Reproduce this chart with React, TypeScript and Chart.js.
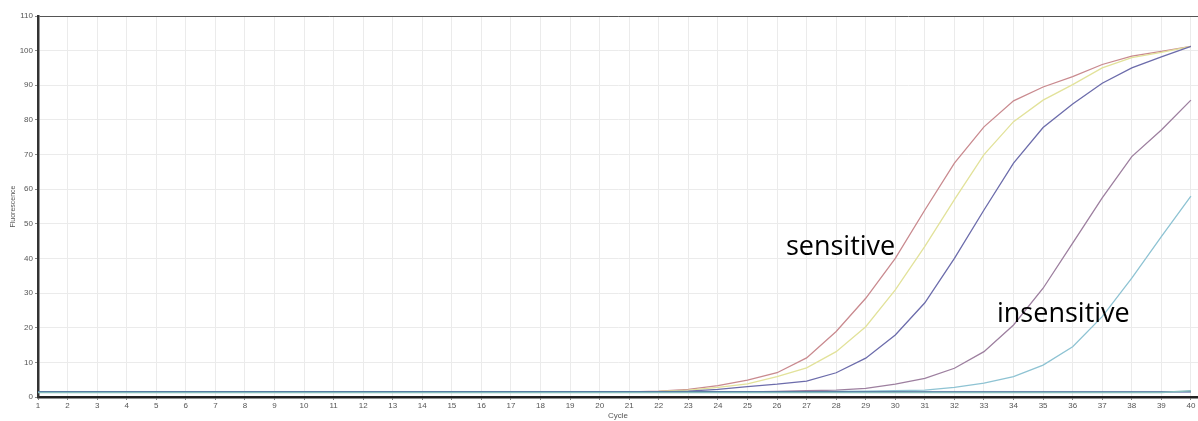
import React, { useEffect, useRef } from "react";
import { Chart, registerables } from "chart.js";

Chart.register(...registerables);

const cycles = [1,2,3,4,5,6,7,8,9,10,11,12,13,14,15,16,17,18,19,20,21,22,23,24,25,26,27,28,29,30,31,32,33,34,35,36,37,38,39,40];

const sensitiveA = [1.5,1.5,1.5,1.5,1.5,1.5,1.5,1.5,1.5,1.5,1.5,1.5,1.5,1.5,1.5,1.5,1.5,1.5,1.5,1.5,1.5,1.7,2.2,3.3,4.9,7.0,11.3,18.9,28.5,40.0,54.0,67.5,78.0,85.5,89.5,92.5,96.0,98.4,99.8,101.2];
const sensitiveB = [1.5,1.5,1.5,1.5,1.5,1.5,1.5,1.5,1.5,1.5,1.5,1.5,1.5,1.5,1.5,1.5,1.5,1.5,1.5,1.5,1.5,1.6,2.0,2.8,3.8,5.9,8.4,13.1,20.3,30.9,43.5,57.0,70.0,79.5,85.7,90.2,95.0,98.0,99.5,101.2];
const sensitiveC = [1.5,1.5,1.5,1.5,1.5,1.5,1.5,1.5,1.5,1.5,1.5,1.5,1.5,1.5,1.5,1.5,1.5,1.5,1.5,1.5,1.5,1.5,1.7,2.2,3.0,3.7,4.6,7.0,11.2,17.9,27.2,40.0,54.0,67.5,77.8,84.6,90.6,95.0,98.2,101.2];
const insensitiveA = [1.5,1.5,1.5,1.5,1.5,1.5,1.5,1.5,1.5,1.5,1.5,1.5,1.5,1.5,1.5,1.5,1.5,1.5,1.5,1.5,1.5,1.5,1.5,1.5,1.5,1.6,1.8,2.0,2.5,3.7,5.4,8.3,13.1,20.8,31.4,44.4,57.5,69.4,77.1,85.7];
const insensitiveB = [1.5,1.5,1.5,1.5,1.5,1.5,1.5,1.5,1.5,1.5,1.5,1.5,1.5,1.5,1.5,1.5,1.5,1.5,1.5,1.5,1.5,1.5,1.5,1.5,1.5,1.5,1.5,1.6,1.7,1.8,2.0,2.8,4.0,5.9,9.2,14.5,23.2,34.3,46.3,58.0];
const baselineTeal = [1.3,1.3,1.3,1.3,1.3,1.3,1.3,1.3,1.3,1.3,1.3,1.3,1.3,1.3,1.3,1.3,1.3,1.3,1.3,1.3,1.3,1.3,1.3,1.3,1.3,1.3,1.3,1.3,1.3,1.3,1.3,1.3,1.3,1.3,1.3,1.3,1.3,1.3,1.3,1.8];
const baselineNavy = [1.5,1.5,1.5,1.5,1.5,1.5,1.5,1.5,1.5,1.5,1.5,1.5,1.5,1.5,1.5,1.5,1.5,1.5,1.5,1.5,1.5,1.5,1.5,1.5,1.5,1.5,1.5,1.5,1.5,1.5,1.5,1.5,1.5,1.5,1.5,1.5,1.5,1.5,1.5,1.5];

const yTickValues = [0,10,20,30,40,50,60,70,80,90,100,110];

const annotations = [
  { text: "sensitive", x: 26.3, y: 41.0 },
  { text: "insensitive", x: 33.44, y: 21.7 },
];

const toPoints = (vals: number[]) => vals.map((v, i) => ({ x: cycles[i], y: v }));

const annotationPlugin = {
  id: "textAnnotations",
  afterDatasetsDraw(chart: any) {
    const { ctx, scales } = chart;
    ctx.save();
    ctx.font = '27px "Open Sans"';
    ctx.fillStyle = "#000";
    ctx.textAlign = "left";
    ctx.textBaseline = "alphabetic";
    annotations.forEach((a) => {
      ctx.fillText(a.text, scales.x.getPixelForValue(a.x), scales.y.getPixelForValue(a.y));
    });
    ctx.restore();
  },
};

export default function App() {
  const ref = useRef<HTMLCanvasElement>(null);
  useEffect(() => {
    if (!ref.current) return;
    const mk = (label: string, vals: number[], color: string, w = 1.3) => ({
      label,
      data: toPoints(vals),
      borderColor: color,
      backgroundColor: color,
      borderWidth: w,
      pointRadius: 0,
      tension: 0,
      fill: false,
    });
    const chart = new Chart(ref.current, {
      type: "line",
      data: {
        datasets: [
          mk("baseline teal", baselineTeal, "#86bcbc", 1.6),
          mk("baseline navy", baselineNavy, "#34508f", 1.2),
          mk("insensitive B", insensitiveB, "#8ec3d3"),
          mk("insensitive A", insensitiveA, "#9d7f9f"),
          mk("sensitive C", sensitiveC, "#6c6cab"),
          mk("sensitive B", sensitiveB, "#e2e29a"),
          mk("sensitive A", sensitiveA, "#c98a8f"),
        ],
      },
      options: {
        animation: false,
        responsive: false,
        layout: { padding: { top: 16, right: 0, bottom: 0, left: 0 } },
        plugins: { legend: { display: false }, tooltip: { enabled: false } },
        scales: {
          x: {
            type: "linear",
            min: 1,
            max: 40.24,
            afterBuildTicks: (s: any) => {
              s.ticks = cycles.map((c) => ({ value: c }));
            },
            afterFit: (s: any) => {
              s.height = 24;
            },
            ticks: {
              autoSkip: false,
              maxRotation: 0,
              padding: 1,
              color: "#555",
              font: { size: 8, family: "Liberation Sans" },
            },
            title: {
              display: true,
              text: "Cycle",
              color: "#555",
              font: { size: 8, family: "Liberation Sans" },
              padding: { top: 0, bottom: 0 },
            },
            grid: { color: "#ebebeb", tickColor: "#888", tickLength: 3 },
            border: { color: "#222", width: 2.5 },
          },
          y: {
            min: 0,
            max: 110,
            afterBuildTicks: (s: any) => {
              s.ticks = yTickValues.map((v) => ({ value: v }));
            },
            afterFit: (s: any) => {
              s.width = 38;
            },
            ticks: {
              padding: 2,
              color: "#555",
              font: { size: 8, family: "Liberation Sans" },
            },
            title: {
              display: true,
              text: "Fluorescence",
              color: "#555",
              font: { size: 7, family: "Liberation Sans" },
              padding: { top: 9, bottom: 0 },
            },
            grid: {
              color: (c: any) => (c.tick && c.tick.value === 110 ? "#555" : "#ebebeb"),
              tickColor: "#888",
              tickLength: 3,
            },
            border: { color: "#333", width: 2.5 },
          },
        },
      },
      plugins: [annotationPlugin],
    });
    return () => chart.destroy();
  }, []);
  return (
    <div style={{ position: "absolute", left: 0, top: 0, width: 1198, height: 421, background: "#fff" }}>
      <canvas ref={ref} width={1198} height={421} style={{ display: "block", width: 1198, height: 421 }} />
    </div>
  );
}
